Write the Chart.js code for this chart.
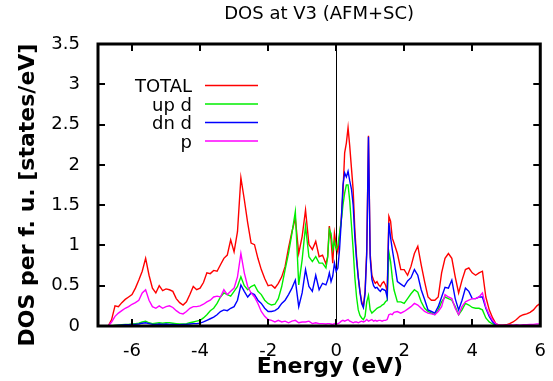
<!DOCTYPE html>
<html>
<head>
<meta charset="utf-8">
<script src="https://cdn.jsdelivr.net/npm/chart.js"></script>
<style>
    html, body { margin: 0; padding: 0; background: #fff; }
    canvas { display: block; }
</style>
</head>
<body>
<canvas id="dosChart" width="553" height="381"></canvas>
<script>
// Energy grid (eV) - finer around the Fermi level peaks
const energy = [
    -6.7, -6.6, -6.5, -6.4, -6.3, -6.2, -6.1, -6.0, -5.9, -5.8,
    -5.7, -5.6, -5.5, -5.4, -5.3, -5.2, -5.1, -5.0, -4.9, -4.8,
    -4.7, -4.6, -4.5, -4.4, -4.3, -4.2, -4.1, -4.0, -3.9, -3.8,
    -3.7, -3.6, -3.5, -3.4, -3.3, -3.2, -3.1, -3.0, -2.9, -2.8,
    -2.7, -2.6, -2.5, -2.4, -2.3, -2.2, -2.1, -2.0, -1.9, -1.8,
    -1.7, -1.6, -1.5, -1.4, -1.3, -1.2, -1.1, -1.0, -0.9, -0.8,
    -0.7, -0.6, -0.5, -0.4,
    -0.3, -0.25, -0.2, -0.15, -0.1, -0.05, 0, 0.05, 0.1, 0.15,
    0.2, 0.25, 0.3, 0.35, 0.4, 0.45, 0.5, 0.55, 0.6, 0.65,
    0.7, 0.75, 0.8, 0.85, 0.9, 0.95, 1.0, 1.05, 1.1, 1.15,
    1.2, 1.25, 1.3, 1.35, 1.4, 1.45, 1.5, 1.55, 1.6, 1.65, 1.7,
    1.8, 1.9, 2.0, 2.1, 2.2, 2.3, 2.4, 2.5, 2.6, 2.7,
    2.8, 2.9, 3.0, 3.1, 3.2, 3.3, 3.4, 3.5, 3.6, 3.7,
    3.8, 3.9, 4.0, 4.1, 4.2, 4.3, 4.4, 4.5, 4.6, 4.7,
    4.8, 4.9, 5.0, 5.1, 5.2, 5.3, 5.4, 5.5, 5.6, 5.7,
    5.8, 5.9, 6.0
];

const dosTotal = [
    0, 0.08, 0.25, 0.24, 0.29, 0.33, 0.36, 0.39, 0.47, 0.57,
    0.68, 0.84, 0.63, 0.47, 0.41, 0.50, 0.44, 0.46, 0.45, 0.43,
    0.34, 0.29, 0.26, 0.30, 0.39, 0.49, 0.45, 0.47, 0.54, 0.66,
    0.65, 0.69, 0.68, 0.76, 0.84, 0.88, 1.07, 0.92, 1.17, 1.84,
    1.57, 1.28, 1.03, 1.01, 0.84, 0.70, 0.59, 0.50, 0.51, 0.47,
    0.53, 0.61, 0.74, 0.97, 1.17, 1.34, 0.90, 1.11, 1.44, 1.01,
    0.95, 1.05, 0.86, 0.88,
    0.77, 0.86, 1.24, 1.07, 0.78, 1.15, 1.01, 0.92, 1.11, 1.32,
    1.65, 2.15, 2.27, 2.46, 2.23, 1.96, 1.69, 1.19, 0.86, 0.61,
    0.43, 0.30, 0.24, 0.43, 0.95, 2.36, 0.90, 0.63, 0.57, 0.53,
    0.55, 0.51, 0.49, 0.53, 0.55, 0.51, 0.43, 1.36, 1.30, 1.09, 1.03,
    0.90, 0.70, 0.70, 0.63, 0.74, 0.90, 0.99, 0.76, 0.55, 0.36,
    0.32, 0.32, 0.36, 0.66, 0.84, 0.90, 0.84, 0.61, 0.41, 0.57,
    0.70, 0.72, 0.66, 0.63, 0.66, 0.68, 0.36, 0.20, 0.10, 0.025,
    0.01, 0.01, 0.015, 0.03, 0.05, 0.08, 0.12, 0.14, 0.15, 0.17,
    0.20, 0.25, 0.28
];

const dosUpD = [
    0, 0, 0.01, 0.01, 0.015, 0.02, 0.02, 0.025, 0.03, 0.035,
    0.05, 0.06, 0.04, 0.03, 0.035, 0.04, 0.035, 0.04, 0.04, 0.035,
    0.03, 0.025, 0.025, 0.03, 0.04, 0.05, 0.06, 0.07, 0.10, 0.14,
    0.19, 0.22, 0.28, 0.36, 0.41, 0.39, 0.37, 0.43, 0.49, 0.61,
    0.50, 0.45, 0.49, 0.51, 0.43, 0.39, 0.32, 0.28, 0.26, 0.27,
    0.34, 0.49, 0.70, 0.90, 1.15, 1.42, 0.51, 0.82, 1.24, 0.86,
    0.80, 0.86, 0.78, 0.78,
    0.72, 0.85, 1.20, 1.15, 0.95, 1.05, 0.95, 1.00, 1.15, 1.30,
    1.50, 1.65, 1.75, 1.75, 1.55, 1.25, 0.95, 0.60, 0.36, 0.20,
    0.13, 0.10, 0.08, 0.12, 0.30, 0.38, 0.20, 0.16, 0.18, 0.20,
    0.22, 0.23, 0.24, 0.26, 0.27, 0.30, 0.32, 0.92, 0.80, 0.60, 0.45,
    0.30, 0.30, 0.28, 0.34, 0.40, 0.45, 0.42, 0.30, 0.22, 0.18,
    0.16, 0.14, 0.20, 0.30, 0.36, 0.34, 0.32, 0.24, 0.14, 0.20,
    0.28, 0.26, 0.23, 0.22, 0.22, 0.20, 0.10, 0.05, 0.025, 0.01,
    0.005, 0.005, 0.005, 0.005, 0.005, 0.005, 0.005, 0.005, 0.005, 0.005,
    0.005, 0.005, 0.005
];

const dosDnD = [
    0, 0, 0.005, 0.01, 0.01, 0.015, 0.015, 0.02, 0.02, 0.025,
    0.035, 0.04, 0.03, 0.02, 0.02, 0.025, 0.02, 0.025, 0.02, 0.02,
    0.015, 0.015, 0.02, 0.02, 0.025, 0.03, 0.03, 0.035, 0.05, 0.07,
    0.09, 0.11, 0.14, 0.18, 0.20, 0.19, 0.22, 0.24, 0.32, 0.51,
    0.43, 0.36, 0.41, 0.39, 0.32, 0.28, 0.22, 0.18, 0.18, 0.19,
    0.22, 0.28, 0.32, 0.39, 0.47, 0.57, 0.24, 0.41, 0.70, 0.49,
    0.43, 0.63, 0.45, 0.53,
    0.51, 0.57, 0.66, 0.55, 0.62, 0.78, 0.68, 0.72, 0.95, 1.30,
    1.75, 1.90, 1.85, 1.92, 1.80, 1.70, 1.50, 1.10, 0.82, 0.60,
    0.42, 0.28, 0.23, 0.40, 0.90, 2.35, 0.85, 0.58, 0.50, 0.47,
    0.48, 0.45, 0.43, 0.46, 0.45, 0.44, 0.36, 1.28, 1.10, 0.95, 0.82,
    0.55, 0.52, 0.49, 0.56, 0.60, 0.70, 0.63, 0.45, 0.33, 0.20,
    0.18, 0.16, 0.24, 0.36, 0.48, 0.47, 0.57, 0.34, 0.20, 0.32,
    0.47, 0.43, 0.34, 0.34, 0.36, 0.36, 0.22, 0.12, 0.05, 0.01,
    0.005, 0.005, 0.005, 0.005, 0.005, 0.005, 0.005, 0.005, 0.005, 0.005,
    0.005, 0.005, 0.005
];

const dosP = [
    0, 0.05, 0.12, 0.16, 0.19, 0.22, 0.24, 0.27, 0.29, 0.32,
    0.41, 0.45, 0.32, 0.24, 0.22, 0.25, 0.22, 0.24, 0.25, 0.23,
    0.19, 0.16, 0.15, 0.18, 0.22, 0.24, 0.24, 0.25, 0.27, 0.30,
    0.32, 0.36, 0.37, 0.36, 0.45, 0.39, 0.43, 0.47, 0.61, 0.90,
    0.66, 0.49, 0.41, 0.36, 0.28, 0.18, 0.12, 0.08, 0.07, 0.05,
    0.07, 0.05, 0.06, 0.04, 0.06, 0.07, 0.04, 0.05, 0.05, 0.06,
    0.03, 0.04, 0.03, 0.03,
    0.025, 0.03, 0.03, 0.025, 0.02, 0.03, 0.02, 0.03, 0.04, 0.06,
    0.07, 0.06, 0.07, 0.08, 0.06, 0.05, 0.04, 0.05, 0.05, 0.04,
    0.05, 0.06, 0.05, 0.06, 0.08, 0.06, 0.07, 0.08, 0.06, 0.07,
    0.06, 0.07, 0.07, 0.06, 0.07, 0.07, 0.08, 0.14, 0.15, 0.14, 0.17,
    0.18, 0.16, 0.18, 0.21, 0.24, 0.28, 0.26, 0.22, 0.18, 0.16,
    0.15, 0.14, 0.18, 0.24, 0.39, 0.36, 0.34, 0.22, 0.14, 0.24,
    0.30, 0.32, 0.34, 0.34, 0.36, 0.41, 0.24, 0.14, 0.07, 0.025,
    0.01, 0.01, 0.01, 0.015, 0.01, 0.015, 0.01, 0.015, 0.015, 0.02,
    0.02, 0.025, 0.025
];

const seriesNames = ['TOTAL', 'up d', 'dn d', 'p'];
const seriesColors = ['#ff0000', '#00ee00', '#0000ff', '#ff00ff'];
const xTicks = [-6, -4, -2, 0, 2, 4, 6];

const FONT = '"DejaVu Sans", sans-serif';

function toPoints(vals) {
    return energy.map((e, i) => ({ x: e, y: vals[i] }));
}

/* ================================
   FRAME, TICKS, LEGEND, TITLES
================================ */

const gnuplotLook = {
    id: 'gnuplotLook',
    beforeDraw(chart) {
        const ctx = chart.ctx;
        ctx.save();
        ctx.fillStyle = '#fff';
        ctx.fillRect(0, 0, chart.width, chart.height);
        ctx.restore();
    },
    beforeDatasetsDraw(chart) {
        const { ctx, chartArea: a, scales } = chart;
        const x0 = Math.round(scales.x.getPixelForValue(0)) + 0.5;
        ctx.save();
        ctx.strokeStyle = '#000';
        ctx.lineWidth = 1;
        ctx.beginPath();
        ctx.moveTo(x0, a.top);
        ctx.lineTo(x0, a.bottom);
        ctx.stroke();
        ctx.restore();
    },
    afterDraw(chart) {
        const { ctx, chartArea: a, scales } = chart;
        ctx.save();

        // ticks pointing inwards, mirrored
        ctx.strokeStyle = '#000';
        ctx.lineWidth = 2;
        const tl = 7;
        ctx.beginPath();
        xTicks.forEach(v => {
            const px = Math.round(scales.x.getPixelForValue(v));
            ctx.moveTo(px, a.bottom); ctx.lineTo(px, a.bottom - tl);
            ctx.moveTo(px, a.top); ctx.lineTo(px, a.top + tl);
        });
        scales.y.ticks.forEach(t => {
            const py = Math.round(scales.y.getPixelForValue(t.value));
            ctx.moveTo(a.left, py); ctx.lineTo(a.left + tl, py);
            ctx.moveTo(a.right, py); ctx.lineTo(a.right - tl, py);
        });
        ctx.stroke();

        // heavy border
        ctx.lineWidth = 3;
        ctx.strokeRect(a.left, a.top, a.right - a.left, a.bottom - a.top);

        // legend: label then sample line
        ctx.font = '18px ' + FONT;
        ctx.fillStyle = '#000';
        ctx.textAlign = 'right';
        ctx.textBaseline = 'alphabetic';
        ctx.lineWidth = 1.5;
        seriesNames.forEach((name, i) => {
            const base = 92 + i * 18.5;
            ctx.fillText(name, 192, base);
            ctx.strokeStyle = seriesColors[i];
            ctx.beginPath();
            ctx.moveTo(205, base - 6.5);
            ctx.lineTo(258, base - 6.5);
            ctx.stroke();
        });

        // chart title
        ctx.textAlign = 'center';
        ctx.fillText('DOS at V3 (AFM+SC)', (a.left + a.right) / 2, 19);

        // axis titles
        ctx.font = 'bold 22px ' + FONT;
        ctx.fillText('Energy (eV)', 330, 373);
        ctx.translate(34, 195);
        ctx.rotate(-Math.PI / 2);
        ctx.fillText('DOS per f. u. [states/eV]', 0, 0);

        ctx.restore();
    }
};

const datasets = [dosTotal, dosUpD, dosDnD, dosP].map((vals, i) => ({
    label: seriesNames[i],
    data: toPoints(vals),
    borderColor: seriesColors[i],
    borderWidth: 1.4,
    pointRadius: 0,
    tension: 0,
    fill: false,
    order: 4 - i
}));

new Chart(document.getElementById('dosChart'), {
    type: 'line',
    data: { datasets },
    options: {
        responsive: false,
        animation: false,
        devicePixelRatio: 1,
        layout: { padding: { top: 44, right: 9, left: 0, bottom: 0 } },
        plugins: {
            legend: { display: false },
            tooltip: { enabled: false },
            title: { display: false }
        },
        scales: {
            x: {
                type: 'linear',
                min: -7,
                max: 6,
                grid: { display: false },
                border: { display: false },
                ticks: {
                    color: '#000',
                    font: { family: FONT, size: 18 },
                    padding: 7,
                    maxRotation: 0
                },
                afterBuildTicks: axis => { axis.ticks = xTicks.map(v => ({ value: v })); },
                afterFit: axis => { axis.height = 55; }
            },
            y: {
                min: 0,
                max: 3.5,
                grid: { display: false },
                border: { display: false },
                ticks: {
                    stepSize: 0.5,
                    color: '#000',
                    font: { family: FONT, size: 18 },
                    padding: 10,
                    callback: v => String(Math.round(v * 10) / 10)
                },
                afterFit: axis => { axis.width = 98; }
            }
        }
    },
    plugins: [gnuplotLook]
});
</script>
</body>
</html>
